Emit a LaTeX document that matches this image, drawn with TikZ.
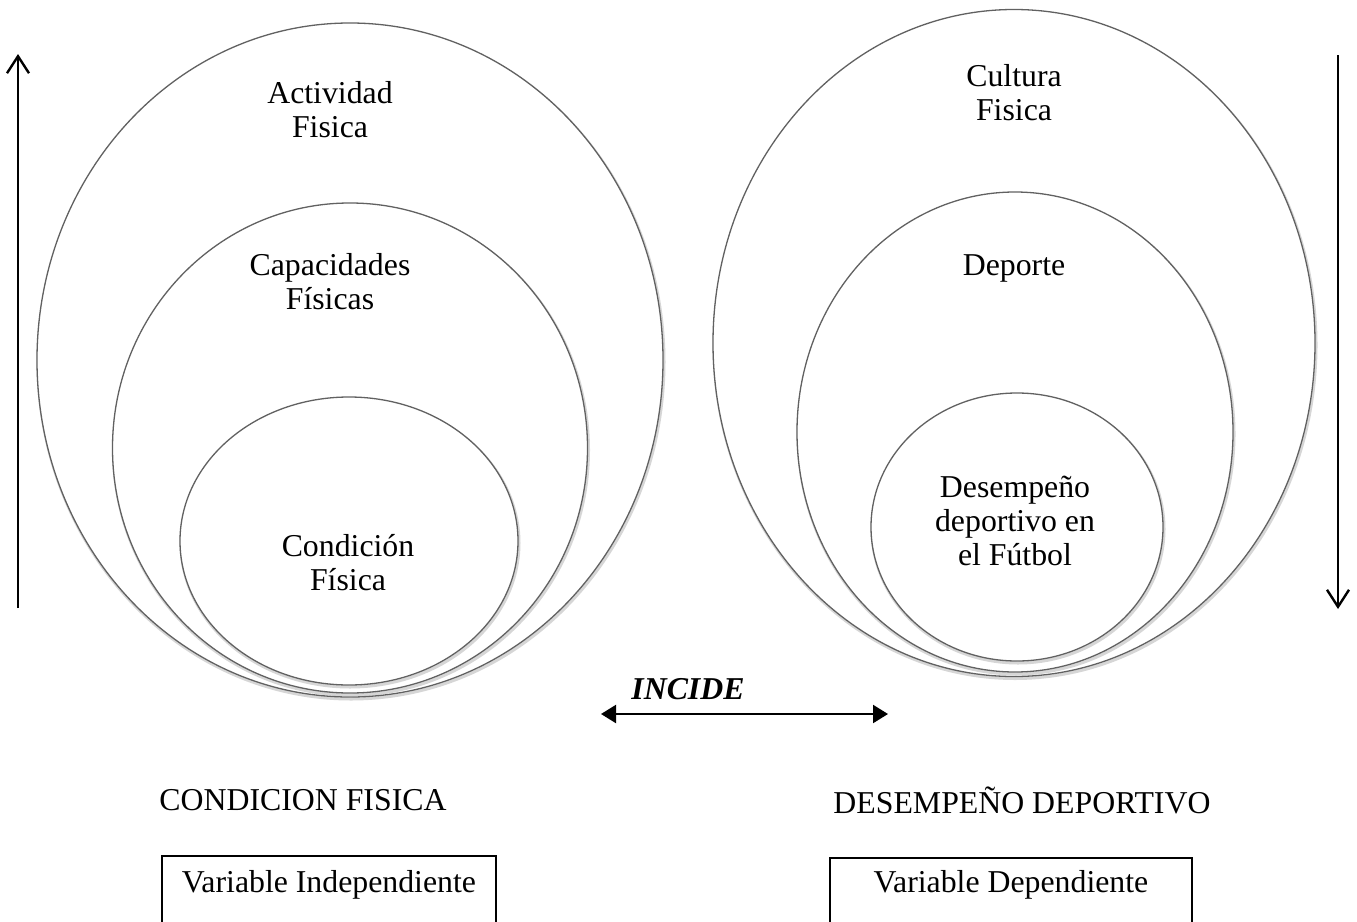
\documentclass[tikz,border=0pt]{standalone}
\usepackage{fontspec}
\setmainfont{Liberation Serif}
\usetikzlibrary{arrows.meta,shapes.geometric}
\begin{document}
\begin{tikzpicture}[x=1pt,y=-1pt,
  circ/.style={ellipse,draw=black!62,line width=1.3pt,fill=white,inner sep=0pt},
  shad/.style={ellipse,draw=black!35,line width=3pt,opacity=0.45,inner sep=0pt},
  txt/.style={font=\fontsize{31.8}{34}\selectfont,align=center,inner sep=0pt},
  varbox/.style={draw=black,line width=1.5pt,inner sep=0pt},
  bigarrow/.style={line width=2.4pt,-{Straight Barb[length=17pt,width=22pt,line width=2.4pt]}},
  inc/.style={line width=2.2pt,{Triangle[length=15pt,width=18pt]}-{Triangle[length=15pt,width=18pt]}}]
\useasboundingbox[fill=white] (0,0) rectangle (1357,921);
% left ellipses
\node[shad,minimum width=626,minimum height=674] at (351,362) {};
\node[circ,minimum width=626,minimum height=674] (lo) at (350,360) {};
\node[shad,minimum width=475,minimum height=490] at (351,450) {};
\node[circ,minimum width=475,minimum height=490] (lm) at (350,448) {};
\node[shad,minimum width=338,minimum height=288] at (350,543) {};
\node[circ,minimum width=338,minimum height=288] (li) at (349,541) {};
% right ellipses
\node[shad,minimum width=602,minimum height=667] at (1015,345) {};
\node[circ,minimum width=602,minimum height=667] (ro) at (1014,343) {};
\node[shad,minimum width=436,minimum height=480] at (1016,434) {};
\node[circ,minimum width=436,minimum height=480] (rm) at (1015,432) {};
\node[shad,minimum width=292,minimum height=268] at (1018,529) {};
\node[circ,minimum width=292,minimum height=268] (ri) at (1017,527) {};
% texts
\node[txt] (t1) at (330,110) {Actividad\\Fisica};
\node[txt] (t2) at (330,282) {Capacidades\\Físicas};
\node[txt] (t3) at (348,563) {Condición\\Física};
\node[txt] (t4) at (1014,93) {Cultura\\Fisica};
\node[txt] (t5) at (1014,268) {Deporte};
\node[txt] (t6) at (1015,521) {Desempeño\\deportivo en\\el Fútbol};
% vertical arrows
\coordinate (la1) at (18,608);
\coordinate (la2) at (18,54);
\draw[bigarrow] (la1) -- (la2);
\coordinate (ra1) at (1338,55);
\coordinate (ra2) at (1338,609);
\draw[bigarrow] (ra1) -- (ra2);
% incide
\node[txt,font=\fontsize{31.8}{34}\selectfont\bfseries\itshape] (incide) at (688,689) {INCIDE};
\coordinate (ia) at (601,714);
\coordinate (ib) at (888,714);
\draw[inc] (ia) -- (ib);
% bottom labels
\node[txt] (cf) at (303,800) {CONDICION FISICA};
\node[txt] (dd) at (1022,800) {DESEMPEÑO DEPORTIVO};
\node[varbox,minimum width=334,minimum height=80] (vi) at (329,896) {};
\node[txt] (vit) at (329,885) {Variable Independiente};
\node[varbox,minimum width=362,minimum height=80] (vd) at (1011,898) {};
\node[txt] (vdt) at (1011,885) {Variable Dependiente};
\end{tikzpicture}
\end{document}
